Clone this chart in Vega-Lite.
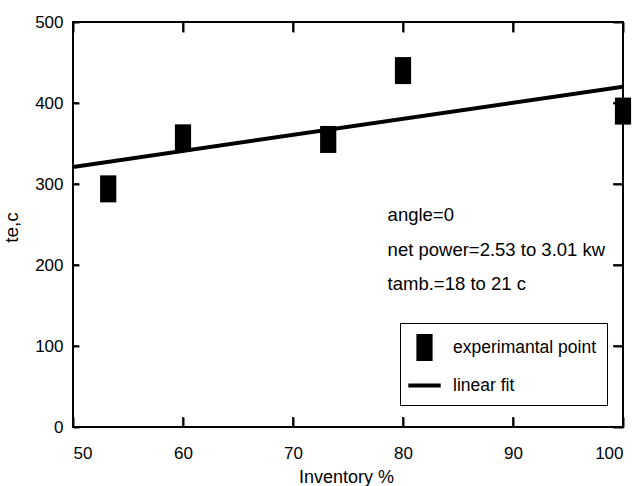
{
  "$schema": "https://vega.github.io/schema/vega-lite/v6.json",
  "width": 550,
  "height": 405,
  "autosize": {"type": "none"},
  "padding": {"left": 73, "top": 22, "right": 17, "bottom": 59},
  "background": "white",
  "config": {
    "view": {"stroke": "black", "strokeWidth": 2},
    "font": "Liberation Sans",
    "axis": {
      "grid": false,
      "labelFont": "Liberation Sans",
      "labelFontSize": 17,
      "labelColor": "black",
      "titleFont": "Liberation Sans",
      "titleFontSize": 18,
      "titleFontWeight": "normal",
      "titleColor": "black"
    }
  },
  "datasets": {
    "points": [
      {"inventory": 53.2, "te": 294, "series": "experimantal point"},
      {"inventory": 60, "te": 357, "series": "experimantal point"},
      {"inventory": 73.2, "te": 355, "series": "experimantal point"},
      {"inventory": 80, "te": 440, "series": "experimantal point"},
      {"inventory": 100, "te": 390, "series": "experimantal point"}
    ],
    "fit": [
      {"inventory": 50, "te": 321},
      {"inventory": 100, "te": 420}
    ],
    "notes": [
      {"inventory": 78.6, "te": 262, "label": "angle=0"},
      {"inventory": 78.6, "te": 219, "label": "net power=2.53 to 3.01 kw"},
      {"inventory": 78.6, "te": 176, "label": "tamb.=18 to 21 c"}
    ],
    "xticks": [{"v": 50}, {"v": 60}, {"v": 70}, {"v": 80}, {"v": 90}, {"v": 100}],
    "yticks": [{"v": 0}, {"v": 100}, {"v": 200}, {"v": 300}, {"v": 400}, {"v": 500}]
  },
  "layer": [
    {
      "data": {"name": "fit"},
      "mark": {"type": "line", "color": "black", "strokeWidth": 4, "clip": true},
      "encoding": {
        "x": {
          "field": "inventory", "type": "quantitative",
          "scale": {"domain": [50, 100], "nice": false},
          "axis": {"orient": "bottom", "values": [50, 60, 70, 80, 90, 100], "domain": false, "ticks": true, "tickColor": "black", "tickWidth": 2, "offset": -10, "tickSize": 10, "labelPadding": 18, "title": "Inventory %", "titleX": 273, "titlePadding": 0, "titleY": 51, "titleBaseline": "top"}
        },
        "y": {
          "field": "te", "type": "quantitative",
          "scale": {"domain": [0, 500], "nice": false},
          "axis": {"orient": "left", "values": [0, 100, 200, 300, 400, 500], "domain": false, "ticks": true, "tickColor": "black", "tickWidth": 2, "offset": -6, "tickSize": 6, "labelPadding": 10, "title": "te,c", "titleFontSize": 19, "titleX": -58, "titleY": 205}
        }
      }
    },
    {
      "data": {"name": "points"},
      "mark": {"type": "point", "filled": true, "color": "black", "opacity": 1, "size": 729},
      "encoding": {
        "x": {
          "field": "inventory", "type": "quantitative",
          "axis": {"orient": "top", "values": [50, 60, 70, 80, 90, 100], "domain": false, "ticks": true, "tickColor": "black", "tickWidth": 2, "offset": -10, "tickSize": 10, "labels": false, "title": null}
        },
        "y": {
          "field": "te", "type": "quantitative",
          "axis": {"orient": "right", "values": [0, 100, 200, 300, 400, 500], "domain": false, "ticks": true, "tickColor": "black", "tickWidth": 2, "offset": -10, "tickSize": 10, "labels": false, "title": null}
        },
        "shape": {
          "field": "series", "type": "nominal",
          "scale": {"domain": ["experimantal point", "linear fit"], "range": ["M-0.6,-1L0.6,-1L0.6,1L-0.6,1Z", "M-1.2,-0.15L1.2,-0.15L1.2,0.15L-1.2,0.15Z"]},
          "legend": {
            "title": null,
            "orient": "none",
            "legendX": 327,
            "legendY": 301,
            "strokeColor": "black",
            "fillColor": "white",
            "padding": 11,
            "rowPadding": 11,
            "symbolSize": 729,
            "symbolFillColor": "black",
            "symbolStrokeColor": "black",
            "symbolStrokeWidth": 0,
            "labelOffset": 15,
            "labelFont": "Liberation Sans",
            "labelFontSize": 17.5,
            "labelColor": "black",
            "labelLimit": 300,
            "encode": {
              "legend": {"update": {"strokeWidth": {"value": 2}}},
              "symbols": {"update": {"fill": {"value": "black"}, "opacity": {"value": 1}}}
            }
          }
        }
      }
    },
    {
      "data": {"name": "notes"},
      "mark": {"type": "text", "align": "left", "baseline": "middle", "font": "Liberation Sans", "fontSize": 18.5, "color": "black"},
      "encoding": {
        "x": {"field": "inventory", "type": "quantitative", "axis": null},
        "y": {"field": "te", "type": "quantitative", "axis": null},
        "text": {"field": "label"}
      }
    },
    {
      "data": {"name": "xticks"},
      "mark": {"type": "tick", "orient": "vertical", "color": "black", "opacity": 1, "thickness": 1.5, "size": 20, "clip": true},
      "encoding": {
        "x": {"field": "v", "type": "quantitative", "axis": null},
        "y": {"datum": 0, "type": "quantitative", "axis": null}
      }
    },
    {
      "data": {"name": "xticks"},
      "mark": {"type": "tick", "orient": "vertical", "color": "black", "opacity": 1, "thickness": 1.5, "size": 20, "clip": true},
      "encoding": {
        "x": {"field": "v", "type": "quantitative", "axis": null},
        "y": {"datum": 500, "type": "quantitative", "axis": null}
      }
    },
    {
      "data": {"name": "yticks"},
      "mark": {"type": "tick", "orient": "horizontal", "color": "black", "opacity": 1, "thickness": 1.5, "size": 12, "clip": true},
      "encoding": {
        "y": {"field": "v", "type": "quantitative", "axis": null},
        "x": {"datum": 50, "type": "quantitative", "axis": null}
      }
    },
    {
      "data": {"name": "yticks"},
      "mark": {"type": "tick", "orient": "horizontal", "color": "black", "opacity": 1, "thickness": 1.5, "size": 20, "clip": true},
      "encoding": {
        "y": {"field": "v", "type": "quantitative", "axis": null},
        "x": {"datum": 100, "type": "quantitative", "axis": null}
      }
    }
  ],
  "resolve": {"axis": {"x": "independent", "y": "independent"}}
}
